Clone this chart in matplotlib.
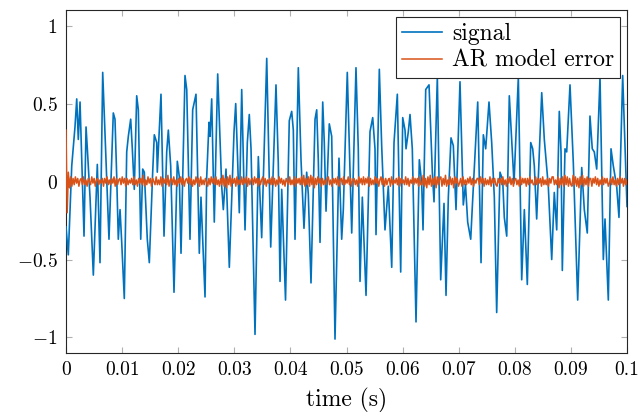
import numpy as np
import matplotlib
matplotlib.use("Agg")
import matplotlib.pyplot as plt

plt.rcParams['font.family'] = 'serif'
plt.rcParams['font.serif'] = ['cmr10']
plt.rcParams['mathtext.fontset'] = 'cm'
plt.rcParams['axes.formatter.use_mathtext'] = True

# signal (time in ms, value)
sig_t_ms = [0.0, 0.41, 1.02, 1.60, 1.91, 2.19, 2.50, 3.21, 3.57, 3.80, 4.28, 4.87, 5.58, 6.06, 6.54,
            7.66, 8.43, 8.73, 9.04, 9.32, 9.63, 9.93, 10.39, 10.82, 11.11, 11.53, 11.82, 12.17, 12.60,
            12.89, 13.32, 13.67, 13.96, 14.49, 14.85, 15.45, 15.74, 16.17, 16.27, 16.93, 17.47, 17.95,
            18.24, 18.66, 19.25, 19.84, 20.20, 20.50, 21.21, 21.52, 22.10, 22.58, 23.17, 23.76, 24.06,
            24.78, 25.08, 25.49, 25.67, 25.97, 26.43, 27.04, 27.75, 28.04, 28.52, 29.11, 29.95, 30.25,
            30.61, 30.89, 31.32, 31.91, 32.32, 32.67, 32.98, 33.69, 34.28, 34.88, 35.78, 36.49, 37.43,
            37.84, 38.15, 38.45, 39.13, 39.80, 40.23, 40.52, 40.82, 41.41, 41.89, 42.42, 42.90, 43.19,
            43.67, 44.39, 44.69, 44.97, 45.28, 45.76, 46.04, 46.35, 46.93, 47.36, 47.95, 48.66, 49.14,
            49.43, 50.14, 50.93, 51.69, 52.10, 52.41, 52.82, 53.48, 53.89, 54.19, 54.67, 55.08, 55.26,
            55.85, 56.27, 56.86, 57.45, 58.06, 58.47, 59.06, 59.66, 60.02, 60.43, 60.61, 61.02, 61.32,
            61.73, 62.39, 62.98, 63.40, 63.64, 64.12, 64.71, 65.30, 65.60, 66.19, 66.79, 67.38, 67.74,
            68.15, 68.63, 69.04, 69.52, 70.23, 70.82, 71.21, 71.60, 72.14, 72.43, 73.39, 73.98, 74.39,
            74.81, 75.40, 75.88, 76.35, 76.77, 77.36, 77.84, 78.13, 78.56, 79.02, 79.86, 80.63, 81.23,
            81.70, 82.23, 82.84, 83.19, 83.48, 83.90, 84.80, 85.26, 85.97, 86.58, 87.04, 87.47, 87.93,
            88.24, 88.47, 88.95, 89.25, 89.84, 90.43, 91.21, 91.93, 92.39, 92.92, 93.40, 93.81, 94.17,
            94.60, 95.19, 95.78, 96.08, 96.67, 97.15, 97.56, 98.16, 98.57, 99.23, 99.77, 100.0]
sig_val = [-0.29, -0.47, 0.10, 0.35, 0.53, 0.27, 0.51, -0.35, 0.35, 0.21, -0.10, -0.60, 0.11, -0.52, 0.70,
           -0.37, 0.44, 0.40, 0.03, -0.37, -0.18, -0.39, -0.75, 0.19, 0.29, 0.40, 0.21, -0.05, 0.55,
           0.46, -0.37, 0.08, 0.06, -0.37, -0.52, 0.06, 0.30, 0.25, 0.06, 0.56, -0.35, 0.19,
           0.33, 0.10, -0.71, 0.13, 0.03, -0.46, 0.68, 0.59, -0.37, 0.46, 0.56, -0.46, -0.10,
           -0.74, 0.03, 0.38, 0.29, 0.53, -0.26, 0.69, -0.03, -0.18, 0.08, -0.55, 0.32, 0.50,
           0.12, -0.20, 0.59, -0.31, 0.25, 0.43, 0.21, -0.98, 0.16, -0.36, 0.79, -0.42, 0.62,
           0.12, -0.64, -0.05, -0.76, 0.39, 0.45, 0.33, -0.37, 0.73, 0.14, -0.30, 0.06, -0.08,
           -0.65, 0.40, 0.46, 0.14, -0.39, 0.51, 0.25, -0.19, 0.37, 0.29, -1.01, 0.15, -0.37,
           -0.18, 0.70, -0.33, 0.73, 0.21, -0.64, -0.10, -0.73, -0.14, 0.32, 0.41, 0.21, -0.34,
           0.72, 0.23, -0.31, -0.03, -0.55, 0.25, 0.56, -0.58, 0.41, 0.33, 0.21, 0.32, 0.43,
           0.21, -0.90, 0.14, -0.01, -0.31, 0.59, 0.62, 0.06, -0.13, 0.67, -0.63, -0.14, -0.73,
           -0.10, 0.28, 0.23, -0.18, 0.64, -0.15, -0.02, -0.26, -0.37, -0.16, 0.51, -0.52, 0.30,
           0.21, 0.51, 0.25, -0.10, -0.84, 0.06, 0.01, -0.23, -0.35, 0.55, -0.01, 0.67, -0.63,
           -0.18, -0.66, 0.25, 0.21, 0.10, -0.24, 0.57, 0.27, -0.03, -0.50, -0.07, -0.31, 0.45,
           0.19, -0.57, 0.21, 0.19, 0.62, 0.12, -0.76, 0.09, -0.18, -0.33, 0.42, 0.21, 0.19,
           0.08, 0.67, -0.50, -0.24, -0.76, 0.21, 0.10, -0.03, -0.23, 0.68, 0.10, -0.16]

# AR model error, read as a dense noisy band around zero
err_val = [0.33, -0.20, 0.06, -0.04, 0.03, -0.03, 0.02, -0.02, 0.03, -0.01, 0.02, -0.03, 0.01, 0.02, -0.02, 0.03,
           -0.02, 0.01, -0.03, 0.02, 0.00, -0.02, 0.03, -0.01, 0.02, -0.03, 0.01, 0.02, -0.02, 0.01, -0.01, 0.02,
           -0.03, 0.02, -0.01, 0.03, -0.02, 0.01, -0.02, 0.02, -0.01, 0.03, -0.03, 0.02, -0.02, 0.01, 0.02, -0.02,
           0.03, -0.01, 0.02, -0.03, 0.02, -0.02, 0.01, -0.01, 0.02, -0.02, 0.03, -0.02, 0.01, -0.03, 0.02, -0.01,
           0.02, -0.02, 0.04, -0.03, 0.01, -0.02, 0.03, -0.01, 0.02, -0.03, 0.02, 0.00, -0.02, 0.03, -0.02, 0.01,
           -0.02, 0.03, -0.03, 0.02, -0.01, 0.02, -0.02, 0.04, -0.03, 0.01, 0.02, -0.02, 0.03, -0.02, 0.01, -0.03,
           0.02, -0.01, 0.03, -0.02, 0.02, -0.03, 0.01, 0.02, -0.01, 0.03, -0.02, 0.02, -0.03, 0.01, -0.02, 0.03,
           -0.01, 0.02, -0.03, 0.03, -0.02, 0.01, -0.02, 0.02, 0.00, -0.03, 0.02, -0.02, 0.03, -0.01, 0.02, -0.02,
           0.03, -0.02, 0.01, -0.03, 0.02, -0.02, 0.04, -0.03, 0.02, -0.04, 0.03, -0.02, 0.04, -0.03, 0.02, -0.01,
           0.02, -0.03, 0.03, -0.02, 0.01, -0.02, 0.03, -0.02, 0.02, -0.01, 0.03, -0.03, 0.02, -0.02, 0.01, 0.02,
           -0.02, 0.03, -0.01, 0.02, -0.03, 0.02, -0.02, 0.01, 0.03, -0.02, 0.02, -0.03, 0.01, -0.01, 0.02, -0.02,
           0.03, -0.02, 0.02, -0.03, 0.01, -0.02, 0.03, -0.01, 0.02, -0.02, 0.01, -0.03, 0.02, 0.00, -0.02, 0.03,
           -0.02, 0.01, -0.02, 0.03, -0.03, 0.02, -0.01, 0.02, -0.02, 0.03, -0.02, 0.04, -0.03, 0.02, -0.02, 0.03,
           -0.03, 0.04, -0.02, 0.03, -0.04, 0.02, -0.02, 0.03, -0.01, 0.02, -0.03, 0.02, -0.02, 0.01, -0.02, 0.02,
           0.03, -0.02, 0.01, -0.03, 0.02, -0.01, 0.02, -0.02, 0.03, -0.03, 0.01, 0.02, -0.02, 0.03, -0.02, 0.01,
           -0.01, 0.03, -0.02, 0.02, -0.03, 0.01, 0.02, -0.02, 0.01, -0.03, 0.03, -0.01, 0.02, -0.02, 0.03, -0.02,
           0.02, -0.01, 0.03, -0.03, 0.02, -0.02, 0.01, -0.02, 0.03, -0.01, 0.02, -0.03, 0.01, 0.03, -0.02, 0.02,
           -0.03, 0.02, -0.02, 0.01, 0.02, -0.03, 0.03, -0.02, 0.01, -0.01, 0.02, -0.02, 0.03, -0.03, 0.02, -0.01,
           0.01, -0.02, 0.03, -0.02, 0.02, -0.03, 0.01, -0.01, 0.03, -0.02, 0.02, -0.01, 0.02, -0.03, 0.03, -0.02,
           -0.02, 0.04, -0.03, 0.02, -0.04, 0.03, -0.02, 0.04, -0.03, 0.02, -0.02, 0.03, -0.04, 0.03, -0.02, 0.02,
           0.03, -0.03, 0.02, -0.02, 0.04, -0.03, 0.01, -0.02, 0.03, -0.02, 0.02, -0.04, 0.03, -0.01, 0.02, -0.03,
           -0.01, 0.02, -0.03, 0.03, -0.02, 0.01, -0.02, 0.02, -0.01, 0.03, -0.02, 0.02, -0.03, 0.01, -0.01, 0.02,
           0.02, -0.02, 0.03, -0.01, 0.02, -0.03, 0.02, -0.02, 0.01, -0.02, 0.03, -0.03, 0.02, -0.01, 0.02, -0.02,
           -0.03, 0.02, -0.01, 0.02, -0.02, 0.03, -0.02, 0.01, -0.03, 0.02, -0.01, 0.03, -0.02, 0.02, -0.03, 0.01,
           0.02, -0.02, 0.01, -0.03, 0.03, -0.02, 0.02, -0.01, 0.02, -0.03, 0.02, -0.02, 0.03, -0.01, 0.01, -0.02,
           -0.02, 0.03, -0.02, 0.02, -0.01, 0.02, -0.03, 0.03, -0.02, 0.01, -0.02, 0.02, -0.03, 0.02, -0.01, 0.03,
           0.03, -0.02, 0.01, -0.02, 0.03, -0.04, 0.02, -0.02, 0.03, -0.03, 0.04, -0.02, 0.03, -0.03, 0.02, -0.02,
           -0.03, 0.04, -0.02, 0.03, -0.03, 0.02, -0.04, 0.03, -0.02, 0.04, -0.03, 0.02, -0.02, 0.03, -0.03, 0.02,
           0.02, -0.03, 0.02, -0.01, 0.03, -0.02, 0.02, -0.03, 0.01, -0.02, 0.03, -0.02, 0.02, -0.01, 0.02, -0.03,
           -0.01, 0.02, -0.02, 0.03, -0.02, 0.01, -0.03, 0.02, -0.02, 0.03, -0.01, 0.02, -0.03, 0.02, -0.02, 0.01]

x_ticks = [0, 0.01, 0.02, 0.03, 0.04, 0.05, 0.06, 0.07, 0.08, 0.09, 0.1]
x_tick_labels = ['0', '0.01', '0.02', '0.03', '0.04', '0.05', '0.06', '0.07', '0.08', '0.09', '0.1']
y_ticks = [-1, -0.5, 0, 0.5, 1]
y_tick_labels = ['$-1$', '$-0.5$', '$0$', '$0.5$', '$1$']

sig_t = np.array(sig_t_ms) / 1000.0
err_t = np.linspace(0, 0.1, len(err_val))

fig = plt.figure(figsize=(6.44, 4.12), dpi=100)
ax = fig.add_axes([0.1025, 0.143, 0.8711, 0.8327])

ax.plot(sig_t, sig_val, color='#0072BD', lw=1.2, label='signal', zorder=3)
ax.plot(err_t, err_val, color='#D95319', lw=1.1, label='AR model error', zorder=3.1)

ax.set_xlim(0, 0.1)
ax.set_ylim(-1.1, 1.1)
ax.set_xticks(x_ticks)
ax.set_xticklabels(x_tick_labels)
ax.set_yticks(y_ticks)
ax.set_yticklabels(y_tick_labels)
ax.tick_params(direction='in', top=True, right=True, length=4, color='#b0b0b0', labelsize=14, pad=6)
for s in ax.spines.values():
    s.set_color('#262626')
    s.set_linewidth(0.8)
ax.set_xlabel('time (s)', fontsize=17, labelpad=6)

leg = ax.legend(loc='upper right', fontsize=17, frameon=True, fancybox=False,
                edgecolor='#262626', framealpha=1, borderpad=0.25, handlelength=1.7,
                handletextpad=0.4, labelspacing=0.2, borderaxespad=0.3)
leg.get_frame().set_linewidth(0.8)
leg.set_zorder(5)

fig.savefig('out.png', dpi=100)
